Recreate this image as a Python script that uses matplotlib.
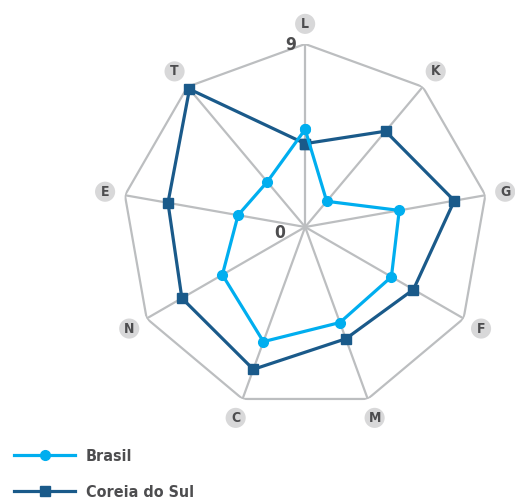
# Radar chart - Brasil vs Coreia do Sul
import numpy as np
import matplotlib
matplotlib.use("Agg")
import matplotlib.pyplot as plt
from matplotlib.lines import Line2D

# Data
categories = ["L", "K", "G", "F", "M", "C", "N", "E", "T"]
brasil = [4.8, 1.65, 4.7, 4.9, 5.0, 6.0, 4.7, 3.35, 2.9]
coreia = [4.1, 6.15, 7.45, 6.15, 5.85, 7.45, 7.0, 6.85, 8.85]
series_names = ["Brasil", "Coreia do Sul"]
r_max = 9

plt.rcParams['font.family'] = ['DejaVu Sans']
plt.rcParams['font.stretch'] = 'condensed'

brasil_color = "#00aeef"
coreia_color = "#1a5a8a"
grid_color = "#bcbec0"
text_color = "#4d4d4f"

fig = plt.figure(figsize=(5.15, 5.0), dpi=100)
ax = fig.add_axes([0.237, 0.18, 0.711, 0.732], projection="polar")
ax.set_theta_offset(np.pi / 2)
ax.set_theta_direction(-1)
ax.set_ylim(0, r_max)
ax.grid(False)
ax.spines["polar"].set_visible(False)
ax.set_xticks([])
ax.set_yticks([])
ax.patch.set_alpha(0)

angles = np.linspace(0, 2 * np.pi, len(categories), endpoint=False)
closed = np.append(angles, angles[0])

# spokes and outer polygon
for a in angles:
    ax.plot([a, a], [0, r_max], color=grid_color, lw=1.6, zorder=1)
ax.plot(closed, [r_max] * len(closed), color=grid_color, lw=1.6, zorder=1)

# series
ax.plot(closed, brasil + brasil[:1], color=brasil_color, lw=2.3,
        marker="o", markersize=7, zorder=3, clip_on=False)
ax.plot(closed, coreia + coreia[:1], color=coreia_color, lw=2.3,
        marker="s", markersize=6.5, zorder=2, clip_on=False)

# category labels in grey circles
for a, lab in zip(angles, categories):
    ax.text(a, r_max * 1.11, lab, ha="center", va="center",
            fontsize=10, fontweight="bold", fontstretch="condensed", color=text_color,
            bbox=dict(boxstyle="circle,pad=0.22", fc="#d8d8d9", ec="none"),
            clip_on=False)

# scale labels
ax.text(np.deg2rad(-4.5), r_max * 1.0, "9", ha="center", va="center",
        fontsize=12.5, fontweight="bold", fontstretch="condensed", color=text_color)
ax.text(np.deg2rad(-103), 1.3, "0", ha="center", va="center",
        fontsize=12.5, fontweight="bold", fontstretch="condensed", color=text_color)

# legend
handles = [Line2D([], [], color=brasil_color, lw=2.3, marker="o", markersize=7),
           Line2D([], [], color=coreia_color, lw=2.3, marker="s", markersize=6.5)]
leg = fig.legend(handles, series_names, loc="upper left",
                 bbox_to_anchor=(0.012, 0.118), frameon=False,
                 prop=dict(size=11.5, weight="bold", stretch="condensed"),
                 handlelength=3.8, handletextpad=0.7, labelspacing=1.3,
                 borderpad=0, numpoints=1)
for t in leg.get_texts():
    t.set_color(text_color)

fig.savefig("out.png", dpi=100)
